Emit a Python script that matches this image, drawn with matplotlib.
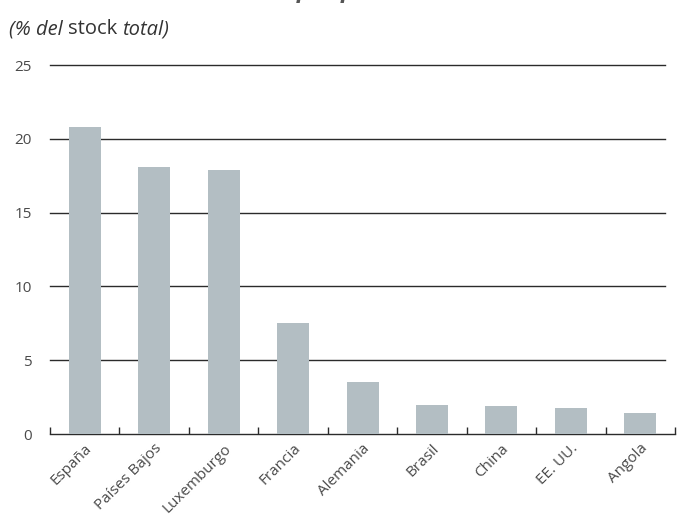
import numpy as np
import matplotlib.pyplot as plt

plt.rcParams['font.family'] = ['Open Sans', 'DejaVu Sans']

countries = ['España', 'Países Bajos', 'Luxemburgo', 'Francia', 'Alemania',
             'Brasil', 'China', 'EE. UU.', 'Angola']
share = [20.8, 18.1, 17.9, 7.5, 3.5, 2.0, 1.9, 1.8, 1.4]
yticks = [0, 5, 10, 15, 20, 25]

BAR = '#b3bec3'
GRID = '#2b2b2b'
TXT = '#4a4a4a'


def main():
    fig = plt.figure(figsize=(6.78, 5.18), dpi=100)
    ax = fig.add_axes([0.0737, 0.162, 0.922, 0.7125])

    x = np.arange(len(countries))
    ax.bar(x, share, width=0.46, color=BAR, zorder=3)

    ax.set_xlim(-0.5, len(countries) - 0.5)
    ax.set_ylim(0, 25)
    ax.set_yticks(yticks)
    # gridlines stop a little short of the baseline's right end
    for yv in yticks[1:]:
        ax.axhline(yv, xmin=0, xmax=0.984, color=GRID, lw=1.0, zorder=1,
                   clip_on=False)
    ax.tick_params(axis='y', length=0, pad=13, labelsize=11, labelcolor=TXT)

    # category boundary ticks on the baseline
    ax.set_xticks(np.arange(len(countries) + 1) - 0.5, minor=True)
    ax.set_xticks(x)
    ax.set_xticklabels(countries, rotation=45, ha='right', rotation_mode='anchor',
                       fontsize=11, color=TXT)
    ax.tick_params(axis='x', which='major', length=0, pad=5)
    ax.tick_params(axis='x', which='minor', direction='in', length=5,
                   width=1, color=GRID)

    for s in ['top', 'right', 'left']:
        ax.spines[s].set_visible(False)
    ax.spines['bottom'].set_color(GRID)
    ax.spines['bottom'].set_linewidth(1.0)

    # title, mostly cut off at top of the picture
    fig.text(0.005, 1.006, 'Stock de inversión directa por países', fontsize=17,
             fontweight='bold', fontstyle='italic', color='#555555',
             va='baseline', ha='left')

    ysub = 1 - 34 / 518
    t1 = fig.text(0.013, ysub, '(% del ', fontsize=14.5, fontstyle='italic',
                  color='#333333', va='baseline')
    t2 = fig.text(0, 0, 'stock ', fontsize=14.5, color='#333333', va='baseline')
    t3 = fig.text(0, 0, 'total)', fontsize=14.5, fontstyle='italic',
                  color='#333333', va='baseline')
    fig.canvas.draw()
    r = fig.canvas.get_renderer()
    bb = t1.get_window_extent(r)
    t2.set_position((bb.x1 / fig.bbox.width, ysub))
    bb = t2.get_window_extent(r)
    t3.set_position((bb.x1 / fig.bbox.width, ysub))

    fig.savefig('out.png', dpi=100)


if __name__ == '__main__':
    main()
